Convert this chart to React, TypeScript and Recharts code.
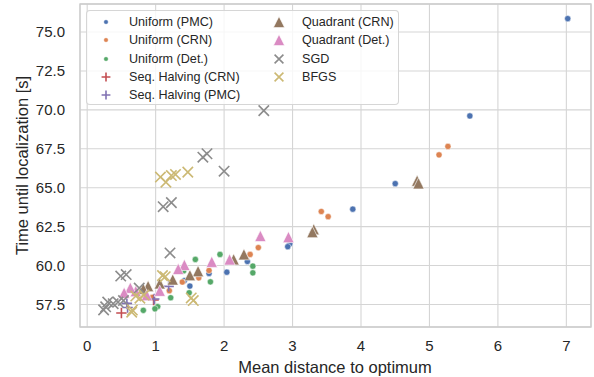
import React from "react";
import {
  ScatterChart,
  Scatter,
  XAxis,
  YAxis,
  CartesianGrid,
  ReferenceArea,
  Legend,
  Label,
} from "recharts";

type Pt = [number, number];

const xTicks = [0, 1, 2, 3, 4, 5, 6, 7];
const yTicks = [57.5, 60, 62.5, 65, 67.5, 70, 72.5, 75];
const xDomain: [number, number] = [-0.105, 7.36];
const yDomain: [number, number] = [56.05, 76.8];

const uniformPMC: Pt[] = [
  [7.02, 75.86], [5.59, 69.61], [4.5, 65.26], [3.88, 63.62], [2.96, 61.4],
  [2.93, 61.21], [2.34, 60.26], [2.04, 59.57], [1.78, 59.49], [1.5, 58.68], [1.42, 59.03],
];
const uniformCRN: Pt[] = [
  [5.27, 67.65], [5.14, 67.11], [3.52, 63.14], [3.42, 63.47], [2.5, 61.15],
  [2.38, 60.71], [1.78, 59.68], [1.63, 59.21], [1.39, 58.94], [1.2, 58.38], [0.95, 57.95],
];
const uniformDet: Pt[] = [
  [2.42, 59.96], [2.42, 59.53], [1.94, 60.71], [1.58, 60.39], [1.41, 59.66],
  [1.8, 58.95], [1.49, 58.25], [1.22, 57.93], [1.03, 57.36], [0.99, 57.22], [0.82, 57.12],
];
const seqHalvingCRN: Pt[] = [[0.5, 56.95], [0.97, 57.78]];
const seqHalvingPMC: Pt[] = [[0.59, 57.3], [0.58, 57.57], [0.98, 57.85], [1.19, 58.66]];
const quadrantCRN: Pt[] = [
  [4.82, 65.45], [4.84, 65.28], [3.31, 62.33], [3.29, 62.15], [2.29, 60.72], [2.14, 60.4],
  [1.62, 59.64], [1.5, 59.38], [1.25, 59.1], [1.06, 58.85], [0.89, 58.68], [0.82, 58.5],
];
const quadrantDet: Pt[] = [
  [2.94, 61.83], [2.53, 61.9], [2.08, 60.39], [1.82, 60.24], [1.42, 60.04], [1.33, 59.78],
  [1.06, 58.38], [0.71, 58.36], [0.63, 58.57], [0.54, 58.25], [0.87, 58.1],
];
const sgd: Pt[] = [
  [2.58, 69.95], [1.75, 67.18], [1.69, 66.96], [2.0, 66.06], [1.23, 64.04], [1.11, 63.78],
  [1.21, 60.81], [0.57, 59.42], [0.49, 59.32], [0.76, 58.55], [0.53, 57.75], [0.45, 57.65],
  [0.38, 57.55], [0.3, 57.65], [0.27, 57.35], [0.24, 57.15],
];
const bfgs: Pt[] = [
  [1.47, 66.0], [1.29, 65.85], [1.23, 65.78], [1.07, 65.68], [1.15, 65.35], [1.1, 59.35],
  [1.14, 59.28], [1.52, 57.92], [1.55, 57.75], [0.83, 58.1], [0.71, 58.04], [0.77, 57.9],
  [0.66, 57.14], [0.65, 57.0],
];

type Kind = "dot" | "tri" | "plus" | "x";

const series: { name: string; data: Pt[]; color: string; kind: Kind }[] = [
  { name: "Uniform (PMC)", data: uniformPMC, color: "#4C72B0", kind: "dot" },
  { name: "Uniform (CRN)", data: uniformCRN, color: "#DD8452", kind: "dot" },
  { name: "Uniform (Det.)", data: uniformDet, color: "#55A868", kind: "dot" },
  { name: "Seq. Halving (CRN)", data: seqHalvingCRN, color: "#C44E52", kind: "plus" },
  { name: "Seq. Halving (PMC)", data: seqHalvingPMC, color: "#8172B3", kind: "plus" },
  { name: "Quadrant (CRN)", data: quadrantCRN, color: "#937860", kind: "tri" },
  { name: "Quadrant (Det.)", data: quadrantDet, color: "#DA8BC3", kind: "tri" },
  { name: "SGD", data: sgd, color: "#8C8C8C", kind: "x" },
  { name: "BFGS", data: bfgs, color: "#CCB974", kind: "x" },
];

const FONT = "'Liberation Sans', Arial, Helvetica, sans-serif";
const TEXT = "#262626";

function marker(kind: Kind, color: string, cx: number, cy: number, s = 1) {
  if (kind === "dot") {
    return <circle cx={cx} cy={cy} r={3.1 * s} fill={color} stroke="#fff" strokeWidth={0.5} />;
  }
  if (kind === "tri") {
    const h = 5.6 * s;
    return (
      <path
        d={`M${cx},${cy - h}L${cx + h},${cy + h}L${cx - h},${cy + h}Z`}
        fill={color}
        stroke="#fff"
        strokeWidth={0.6}
      />
    );
  }
  const a = 5.2 * s;
  if (kind === "plus") {
    return (
      <path d={`M${cx - a},${cy}H${cx + a}M${cx},${cy - a}V${cy + a}`} stroke={color} strokeWidth={1.6} fill="none" />
    );
  }
  return (
    <path
      d={`M${cx - a},${cy - a}L${cx + a},${cy + a}M${cx - a},${cy + a}L${cx + a},${cy - a}`}
      stroke={color}
      strokeWidth={1.6}
      fill="none"
    />
  );
}

const LegendBox = () => {
  const col1 = series.slice(0, 5);
  const col2 = series.slice(5);
  const renderCol = (items: typeof series, left: number) =>
    items.map((s, i) => (
      <div
        key={s.name}
        style={{
          position: "absolute",
          left,
          top: 1.6 + i * 18.4,
          height: 18.4,
          display: "flex",
          alignItems: "center",
          whiteSpace: "nowrap",
        }}
      >
        <svg width={20} height={18} style={{ marginRight: 13 }}>
          {marker(s.kind, s.color, 10, 9, s.kind === "dot" ? 0.75 : s.kind === "tri" ? 1.0 : 0.85)}
        </svg>
        <span>{s.name}</span>
      </div>
    ));
  return (
    <div
      style={{
        position: "relative",
        width: 313,
        height: 95,
        boxSizing: "border-box",
        border: "1px solid rgba(204,204,204,0.8)",
        borderRadius: 4,
        background: "rgba(255,255,255,0.8)",
        fontFamily: FONT,
        fontSize: 12.6,
        color: TEXT,
      }}
    >
      {renderCol(col1, 9)}
      {renderCol(col2, 182)}
    </div>
  );
};

export default function App() {
  return (
    <div style={{ position: "absolute", left: 0, top: 0, width: 594, height: 377, background: "#fff" }}>
      <ScatterChart width={594} height={377} margin={{ top: 4, right: 3, bottom: 0, left: 0 }}>
        <CartesianGrid stroke="#d5d5d5" strokeWidth={1.1} />
        <XAxis
          type="number"
          dataKey="x"
          domain={xDomain}
          ticks={xTicks}
          allowDataOverflow
          height={50}
          axisLine={false}
          tickLine={false}
          tickMargin={7}
          tick={{ fill: TEXT, fontSize: 15, fontFamily: FONT }}
        >
          <Label
            content={() => (
              <text x={335} y={373} textAnchor="middle" fill={TEXT} fontSize={16.5} fontFamily={FONT}>
                Mean distance to optimum
              </text>
            )}
          />
        </XAxis>
        <YAxis
          type="number"
          dataKey="y"
          domain={yDomain}
          ticks={yTicks}
          allowDataOverflow
          width={80}
          axisLine={false}
          tickLine={false}
          tickMargin={9}
          tickFormatter={(v: number) => v.toFixed(1)}
          tick={{ fill: TEXT, fontSize: 15, fontFamily: FONT }}
        >
          <Label
            content={() => (
              <text
                x={22}
                y={165.5}
                transform="rotate(-90 22 165.5)"
                textAnchor="middle"
                dominantBaseline="central"
                fill={TEXT}
                fontSize={16.5}
                fontFamily={FONT}
              >
                Time until localization [s]
              </text>
            )}
          />
        </YAxis>
        <ReferenceArea
          x1={xDomain[0]}
          x2={xDomain[1]}
          y1={yDomain[0]}
          y2={yDomain[1]}
          fill="none"
          stroke="#cccccc"
          strokeWidth={1.3}
          ifOverflow="visible"
        />
        {series.map((s) => (
          <Scatter
            key={s.name}
            name={s.name}
            data={s.data.map(([x, y]) => ({ x, y }))}
            isAnimationActive={false}
            shape={(p: any) => marker(s.kind, s.color, p.cx, p.cy)}
          />
        ))}
        <Legend
          layout="horizontal"
          verticalAlign="middle"
          align="center"
          wrapperStyle={{ left: 86, top: 10, width: 313, height: 95 }}
          content={() => <LegendBox />}
        />
      </ScatterChart>
    </div>
  );
}
